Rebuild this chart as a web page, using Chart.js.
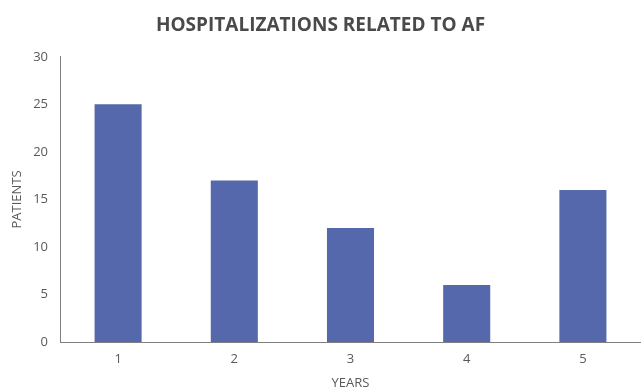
<!DOCTYPE html>
<html>
<head>
<meta charset="utf-8">
<script src="https://cdn.jsdelivr.net/npm/chart.js@4/dist/chart.umd.min.js"></script>
<style>
  html, body { margin: 0; padding: 0; background: #ffffff; }
  #wrap { width: 641px; height: 391px; position: relative; }
</style>
</head>
<body>
<div id="wrap"><canvas id="chart"></canvas></div>
<script>
// Hospitalizations per year
const years = ['1', '2', '3', '4', '5'];
const patients = [25, 17, 12, 6, 16];
const yTicks = [0, 5, 10, 15, 20, 25, 30];

const textColor = '#595959';
const axisColor = '#7f7f7f';
const baseFont = "'Open Sans', 'Liberation Sans', sans-serif";

new Chart(document.getElementById('chart'), {
  type: 'bar',
  data: {
    labels: years,
    datasets: [{
      label: 'Patients',
      data: patients,
      backgroundColor: '#5468AB',
      borderWidth: 0,
      categoryPercentage: 1.0,
      barPercentage: 0.405
    }]
  },
  options: {
    responsive: true,
    maintainAspectRatio: false,
    animation: false,
    layout: { padding: { left: 0, right: 0, top: 0, bottom: 0 } },
    plugins: {
      legend: { display: false },
      tooltip: { enabled: false },
      title: {
        display: true,
        text: 'HOSPITALIZATIONS RELATED TO AF',
        color: '#4a4a4a',
        font: { family: baseFont, size: 19, weight: 'bold' },
        padding: { top: 14, bottom: 20 }
      }
    },
    scales: {
      x: {
        grid: { display: false, drawTicks: false },
        border: { display: true, color: axisColor, width: 1 },
        ticks: {
          color: textColor,
          font: { family: baseFont, size: 13 },
          padding: 9
        },
        title: {
          display: true,
          text: 'YEARS',
          color: textColor,
          font: { family: baseFont, size: 13 },
          padding: { top: 5, bottom: 0 }
        },
        afterFit: (scale) => { scale.height = 49; }
      },
      y: {
        min: 0,
        max: 30,
        afterBuildTicks: (scale) => {
          scale.ticks = yTicks.map(v => ({ value: v }));
        },
        grid: { display: false, drawTicks: false },
        border: { display: true, color: axisColor, width: 1 },
        ticks: {
          color: textColor,
          font: { family: baseFont, size: 13 },
          padding: 12
        },
        title: {
          display: true,
          text: 'PATIENTS',
          color: textColor,
          font: { family: baseFont, size: 13 },
          padding: { top: 9, bottom: 0 }
        },
        afterFit: (scale) => { scale.width = 60; }
      }
    }
  }
});
</script>
</body>
</html>
